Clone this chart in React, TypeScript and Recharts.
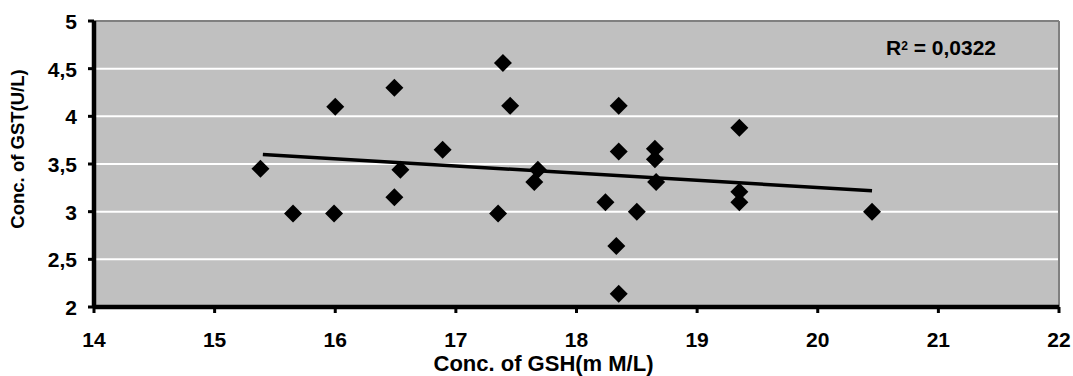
import { ScatterChart, Scatter, XAxis, YAxis, CartesianGrid, ReferenceLine, Label } from 'recharts';

const gshValues = [15.38, 15.65, 15.99, 16.0, 16.49, 16.49, 16.54, 16.89, 17.35, 17.39, 17.45, 17.68, 17.65, 18.24, 18.33, 18.35, 18.35, 18.35, 18.5, 18.65, 18.65, 18.66, 19.35, 19.35, 19.35, 20.45];
const gstValues = [3.45, 2.98, 2.98, 4.1, 4.3, 3.15, 3.44, 3.65, 2.98, 4.56, 4.11, 3.44, 3.31, 3.1, 2.64, 2.14, 4.11, 3.63, 3.0, 3.66, 3.55, 3.31, 3.88, 3.21, 3.1, 3.0];

const trendX = [15.4, 20.45];
const trendY = [3.6, 3.22];

const xTicks = [14, 15, 16, 17, 18, 19, 20, 21, 22];
const yTicks = [2, 2.5, 3, 3.5, 4, 4.5, 5];

const points = gshValues.map((x, i) => ({ x, y: gstValues[i] }));
const trend = trendX.map((x, i) => ({ x, y: trendY[i] }));

const font = 'Arial, "Liberation Sans", sans-serif';

const Diamond = (props: any) => {
  const { cx, cy } = props;
  const r = 9;
  return <polygon points={`${cx},${cy - r} ${cx + r},${cy} ${cx},${cy + r} ${cx - r},${cy}`} fill="#000" />;
};

const NoDot = () => <g />;

// tick labels drawn by hand so the font size sticks
const XTick = (props: any) => {
  const { x, y, payload } = props;
  return (
    <text x={x} y={y} dy={15} textAnchor="middle" fill="#000" fontSize={21} fontWeight="bold" fontFamily={font}>
      {payload.value}
    </text>
  );
};

const YTick = (props: any) => {
  const { x, y, payload } = props;
  return (
    <text x={x} y={y} dy={8} textAnchor="end" fill="#000" fontSize={21} fontWeight="bold" fontFamily={font}>
      {String(payload.value).replace('.', ',')}
    </text>
  );
};

const App = () => {
  return (
    <div style={{ position: 'absolute', left: 0, top: 0, width: 1073, height: 376, background: '#fff', fontFamily: font }}>
      <ScatterChart width={1073} height={376} margin={{ top: 21, right: 14, left: 34, bottom: 0 }}>
        <CartesianGrid vertical={false} fill="#C0C0C0" stroke="#fff" strokeWidth={2} />
        <XAxis
          type="number"
          dataKey="x"
          domain={[14, 22]}
          ticks={xTicks}
          axisLine={false}
          tickLine={{ stroke: '#000', strokeWidth: 3 }}
          tickSize={6}
          tickMargin={19}
          height={69}
          tick={XTick}
        >
          <Label
            value="Conc. of GSH(m M/L)"
            position="insideBottom"
            offset={5}
            dx={-33}
            style={{ fill: '#000', fontSize: 22, fontWeight: 'bold', fontFamily: font }}
          />
        </XAxis>
        <YAxis
          type="number"
          dataKey="y"
          domain={[2, 5]}
          ticks={yTicks}
          axisLine={false}
          tickLine={{ stroke: '#000', strokeWidth: 3 }}
          tickSize={6}
          tickMargin={11}
          width={60}
          tick={YTick}
        >
          <Label
            value="Conc. of GST(U/L)"
            angle={-90}
            position="insideLeft"
            offset={-17}
            dy={-15}
            style={{ fill: '#000', fontSize: 18.5, fontWeight: 'bold', fontFamily: font, textAnchor: 'middle' }}
          />
        </YAxis>
        <ReferenceLine y={5} stroke="#808080" strokeWidth={2} ifOverflow="visible" />
        <ReferenceLine x={22} stroke="#808080" strokeWidth={2} ifOverflow="visible" />
        <ReferenceLine y={2} stroke="#000" strokeWidth={4.5} ifOverflow="visible" />
        <ReferenceLine x={14} stroke="#000" strokeWidth={4.5} ifOverflow="visible" />
        <Scatter data={points} shape={Diamond} isAnimationActive={false} />
        <Scatter data={trend} line={{ stroke: '#000', strokeWidth: 3.5 }} shape={NoDot} isAnimationActive={false} />
      </ScatterChart>
      <div style={{ position: 'absolute', left: 886, top: 36, fontSize: 21, fontWeight: 'bold', color: '#000', fontFamily: font, lineHeight: '24px' }}>
        R<sup style={{ fontSize: 12, verticalAlign: 'top', position: 'relative', top: -2 }}>2</sup> = 0,0322
      </div>
    </div>
  );
};

export default App;
